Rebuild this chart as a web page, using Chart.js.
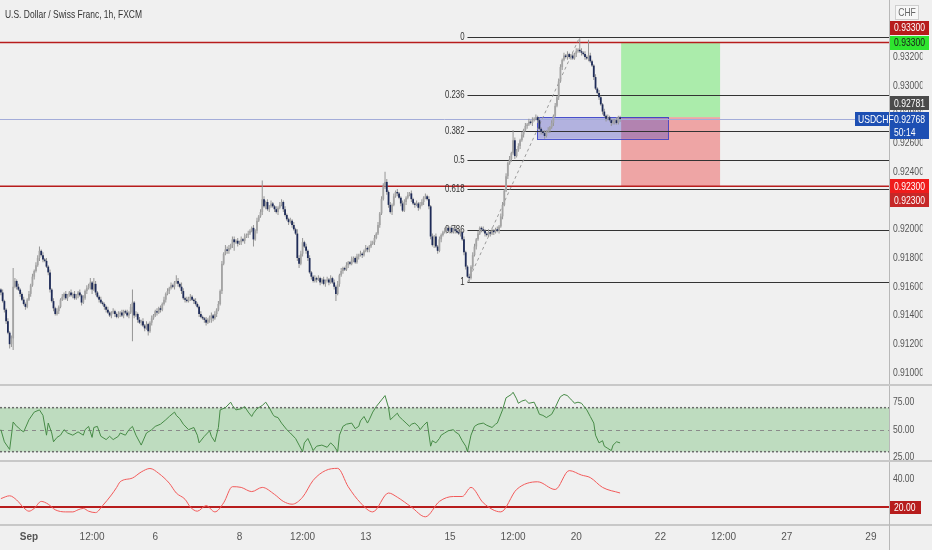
<!DOCTYPE html>
<html><head><meta charset="utf-8"><title>USDCHF 1h</title>
<script src="https://cdn.jsdelivr.net/npm/chart.js@4.4.1/dist/chart.umd.min.js"></script>
<style>
html,body{margin:0;padding:0;background:#f0f0f0;}
#wrap{position:relative;width:932px;height:550px;overflow:hidden;background:#f0f0f0;}
#wrap canvas{position:absolute;left:0;}
.sep{position:absolute;left:0;width:932px;height:2px;background:#c8c8c8;}
#title{position:absolute;left:5px;top:8px;font:11px 'Liberation Sans',Arial,sans-serif;color:#333;transform:scaleX(0.77);transform-origin:0 0;white-space:nowrap;}
#vline{position:absolute;left:889px;top:524px;width:1px;height:26px;background:#b8b8b8;}
</style></head><body>
<div id="wrap">
<canvas id="cMain" width="932" height="384" style="top:0"></canvas>
<div class="sep" style="top:384px"></div>
<canvas id="cRsi" width="932" height="74" style="top:386px"></canvas>
<div class="sep" style="top:460px"></div>
<canvas id="cInd" width="932" height="88" style="top:462px"></canvas>
<div class="sep" style="top:524px"></div>
<div id="vline"></div>
<div id="title">U.S. Dollar / Swiss Franc, 1h, FXCM</div>
</div>
<script>
// ---------- DATA ----------
// hourly closes (USD/CHF), candle 0 = Aug 31 ~08:00
const closes = [
0.9156,0.9150,0.9144,0.9136,0.9128,0.9120,0.9124,0.9160,0.9164,0.9160,
0.9158,0.9155,0.9151,0.9148,0.9146,0.9151,0.9155,0.9161,0.9167,0.9171,
0.9175,0.9180,0.9185,0.9182,0.9179,0.9178,0.9174,0.9170,0.9158,0.9150,
0.9145,0.9141,0.9143,0.9146,0.9151,0.9153,0.9155,0.9152,0.9154,0.9156,
0.9154,0.9155,0.9152,0.9154,0.9156,0.9154,0.9149,0.9152,0.9157,0.9159,
0.9160,0.9163,0.9158,0.9162,0.9156,0.9153,0.9151,0.9149,0.9148,0.9146,
0.9144,0.9142,0.9140,0.9142,0.9143,0.9141,0.9139,0.9141,0.9142,0.9140,
0.9143,0.9142,0.9140,0.9142,0.9146,0.9149,0.9140,0.9141,0.9137,0.9135,
0.9136,0.9133,0.9131,0.9134,0.9129,0.9135,0.9138,0.9140,0.9143,0.9142,
0.9145,0.9144,0.9148,0.9151,0.9155,0.9157,0.9159,0.9161,0.9160,0.9163,
0.9164,0.9162,0.9160,0.9157,0.9152,0.9151,0.9150,0.9152,0.9153,0.9151,
0.9150,0.9148,0.9146,0.9141,0.9139,0.9138,0.9137,0.9135,0.9137,0.9139,
0.9140,0.9138,0.9141,0.9144,0.9148,0.9157,0.9176,0.9183,0.9186,0.9185,
0.9187,0.9189,0.9193,0.9191,0.9192,0.9190,0.9191,0.9193,0.9192,0.9195,
0.9196,0.9197,0.9199,0.9201,0.9193,0.9199,0.9206,0.9209,0.9212,0.9221,
0.9216,0.9219,0.9214,0.9216,0.9218,0.9216,0.9214,0.9212,0.9215,0.9217,
0.9219,0.9214,0.9210,0.9207,0.9205,0.9206,0.9203,0.9200,0.9197,0.9180,
0.9176,0.9183,0.9191,0.9188,0.9185,0.9180,0.9170,0.9167,0.9164,0.9166,
0.9165,0.9166,0.9163,0.9165,0.9162,0.9164,0.9165,0.9163,0.9166,0.9163,
0.9160,0.9155,0.9162,0.9168,0.9171,0.9173,0.9172,0.9175,0.9177,0.9176,
0.9179,0.9180,0.9177,0.9181,0.9182,0.9183,0.9182,0.9185,0.9187,0.9186,
0.9188,0.9190,0.9191,0.9194,0.9197,0.9203,0.9211,0.9221,0.9230,0.9233,
0.9226,0.9217,0.9212,0.9217,0.9223,0.9226,0.9225,0.9222,0.9218,0.9213,
0.9219,0.9222,0.9224,0.9225,0.9221,0.9218,0.9217,0.9218,0.9215,0.9217,
0.9219,0.9222,0.9223,0.9221,0.9216,0.9195,0.9189,0.9195,0.9188,0.9185,
0.9193,0.9196,0.9198,0.9199,0.9201,0.9199,0.9201,0.9198,0.9200,0.9199,
0.9198,0.9197,0.9198,0.9193,0.9184,0.9174,0.9167,0.9166,0.9174,0.9182,
0.9188,0.9193,0.9197,0.9201,0.9200,0.9199,0.9197,0.9196,0.9198,0.9197,
0.9199,0.9198,0.9200,0.9199,0.9202,0.9209,0.9217,0.9227,0.9237,0.9246,
0.9249,0.9253,0.9262,0.9251,0.9255,0.9258,0.9262,0.9266,0.9269,0.9272,
0.9273,0.9275,0.9274,0.9276,0.9277,0.9278,0.9276,0.9270,0.9268,0.9267,
0.9265,0.9268,0.9269,0.9271,0.9274,0.9279,0.9286,0.9292,0.9303,0.9313,
0.9318,0.9321,0.9320,0.9322,0.9320,0.9321,0.9319,0.9322,0.9324,0.9325,
0.9324,0.9323,0.9322,0.9320,0.9319,0.9321,0.9317,0.9314,0.9306,0.9298,
0.9295,0.9292,0.9287,0.9282,0.9279,0.9277,0.9278,0.9276,0.9274,0.9275,
0.9276,0.9274,0.9278,0.92768
];
const firstOpen = 0.9158;
// upper / lower wick beyond the body, in pips
const wickHi = [
1,2,1,1,2,1,2,13,2,1, 2,1,1,2,1,1,2,1,2,1, 2,2,3,1,2,1,2,1,2,1, 2,1,2,1,1,2,1,2,1,1,
2,1,2,1,1,2,1,2,1,2, 2,3,1,4,2,1,1,2,1,1, 1,2,1,1,2,1,1,2,1,2, 1,1,2,1,2,9,1,2,1,2,
1,2,1,2,1,1,2,1,1,2, 1,2,1,2,1,2,1,2,1,1, 4,2,1,3,2,1,2,1,2,1, 1,2,1,1,2,1,1,2,1,1,
2,1,2,1,2,1,2,1,3,2, 2,1,2,2,1,2,1,2,1,2, 1,2,1,1,2,1,2,1,2,13, 2,1,2,1,2,1,1,2,1,2,
2,1,2,1,1,2,1,2,1,3, 2,2,3,1,2,1,2,1,1,2, 1,2,1,1,2,1,2,1,2,1, 2,1,2,1,2,1,1,2,1,1,
2,1,1,2,1,2,1,1,2,1, 1,2,1,2,1,2,1,2,2,7, 2,1,2,1,2,1,2,1,1,2, 2,1,2,1,2,1,1,2,1,2,
2,1,2,1,2,1,2,1,2,1, 2,1,1,2,1,2,1,2,1,2, 1,2,1,1,2,1,1,2,1,2, 2,1,2,1,1,2,1,1,2,1,
2,1,1,2,1,2,2,1,2,1, 2,1,7,2,1,2,1,2,1,2, 1,2,1,2,1,2,1,2,1,1, 2,1,2,1,2,1,2,1,2,2,
1,2,1,2,1,1,2,1,2,1, 8,2,1,2,1,11,2,1,1,2, 1,2,1,1,2,1,2,1,1,2, 1,2,1,1
];
const wickLo = [
2,1,2,2,1,3,2,8,1,2, 1,2,1,1,2,1,1,2,1,2, 1,1,2,1,2,1,1,2,2,1, 2,1,1,2,1,1,2,1,2,1,
1,2,1,1,2,1,2,1,1,2, 1,2,3,1,2,1,2,1,1,2, 2,1,1,2,1,2,1,1,2,1, 2,1,1,2,1,24,2,1,2,1,
2,1,2,1,3,1,2,1,1,2, 1,2,1,1,2,1,2,1,1,2, 1,2,1,2,1,2,1,1,2,1, 2,1,1,2,1,1,2,2,1,2,
4,2,1,2,1,1,2,1,1,2, 2,1,2,6,1,2,1,2,1,2, 1,2,1,1,5,1,2,1,1,2, 1,2,1,2,1,1,2,1,2,1,
1,2,1,1,2,1,2,1,1,2, 3,1,2,1,2,2,1,2,1,1, 2,1,2,1,1,2,1,2,1,1, 2,5,1,2,1,2,1,1,2,1,
1,2,1,1,2,1,2,1,1,2, 2,1,1,2,1,1,2,1,1,2, 2,2,1,2,1,1,2,1,2,1, 1,2,1,1,2,1,2,1,2,1,
1,2,1,1,2,2,1,2,1,2, 1,2,1,1,2,1,2,1,1,2, 1,1,2,1,2,2,1,3,1,2, 1,2,1,1,2,1,2,1,1,2,
1,2,1,1,2,1,2,1,1,2, 1,2,1,2,1,1,2,1,2,1, 2,1,1,2,1,1,2,1,2,1, 2,1,1,2,1,2,1,1,2,1,
2,1,1,2,1,2,1,1,2,1, 1,2,1,2,1,2,1,1,2,1, 1,2,1,2,1,2,1,1,2,1, 2,1,1,2
];
// RSI (candle index -> value)
const rsiIdx = [0,2,5,7,9,10,11,13,16,19, 22,24,26,27,29,30,32,34,36,38, 41,44,47,48,50,52,53,55,57,60,
62,64,67,68,71,73,75,77,80,83, 86,88,91,94,96,99,100,102,104,107, 110,112,113,116,119,120,122,124,125,128,
131,132,134,137,139,141,143,144,146,149, 151,153,155,156,158,160,163,165,168,170, 172,173,175,177,178,180,183,186,188,190,
192,193,195,197,200,202,204,205,207,209, 210,212,214,217,219,221,222,224,226,227, 229,231,233,234,236,238,239,241,243,245,
246,248,250,251,253,255,258,259,261,263, 265,266,268,270,272,275,277,280,282,283, 286,288,291,292,294,295,297,299,301,304,
306,307,309,311,312,314,316,318,319,321, 323,324,326,327,329,331,332,334,336,338, 339,341,343,344,346,348,349,351,353];
const rsiVals = [50,39,32,57,53,52,50,48,59,66, 68,63,45,56,47,39,43,45,50,47, 45,48,45,50,53,43,52,53,44,41,
44,41,44,47,45,50,53,45,36,47, 50,53,55,59,62,66,63,60,55,50, 52,45,38,44,49,44,39,52,68,70,
75,72,68,69,71,66,62,65,69,72, 75,70,64,62,61,56,50,47,42,36, 30,38,42,35,31,35,36,34,38,35,
30,45,53,55,56,51,53,58,62,56, 59,66,71,77,81,70,59,62,65,62, 59,56,53,55,56,53,50,54,57,35,
40,38,42,45,47,49,50,48,46,40, 35,30,45,53,55,56,54,52,55,56, 68,79,82,84,78,74,76,77,74,75,
68,64,63,61,62,64,70,77,80,82, 81,79,76,74,75,74,72,68,62,56, 45,38,40,35,33,31,36,39,38];
const rsiBand = [30, 70];
const rsiMid = 50;
const rsiTicks = [25, 50, 75];
// lower indicator (red line)
const indIdx = [0,5,9,13,16,19,23,27,31,37,41,44,47,50,54,58,63,66,68,75,80,85,90,96,100,105,108,112,117,122,127,132,137,143,149,156,161,166,172,178,185,192,198,205,212,221,226,234,242,250,258,263,268,275,285,294,306,316,324,331,336,343,353];
const indVals = [26,28,25,19.5,17,19,24,22,18,16.5,16.5,18,19,17,16,21,28.6,34,38,40.7,45,47.5,44,37,30,25.5,20,17,21,16.5,23,34.5,34,31,34,29,24,22,27,39,46,47.6,34.5,23,16.5,30,27,20,13,24,27.5,27.5,34,23,16.5,32.5,38,32.5,46,42.8,41,34,30];
const indLevel = 20;
const indTicks = [20, 40];
// axes
const priceTicks = [0.910,0.912,0.914,0.916,0.918,0.920,0.922,0.924,0.926,0.928,0.930,0.932];
const timeTickIdx = [16,52,88,136,172,208,256,292,328,376,412,448,496];
const timeTickLabels = ['Sep','12:00','6','8','12:00','13','15','12:00','20','22','12:00','27','29'];
// drawings
const redLevels = [0.9330, 0.9230];
const fibLevels = [0, 0.236, 0.382, 0.5, 0.618, 0.786, 1];
const fibPrices = [0.9334, 0.9163];   // 0-level, 1-level
const fibIdx = [266, 330];            // candle of the low, candle of the high
const orderBlockIdx = [305.7, 380.3];
const orderBlockPrices = [0.9263, 0.92781];
const positionIdx = [353.6, 410];
const positionPrices = [0.9230, 0.92781, 0.9330]; // stop, entry, target
const lastPrice = 0.92768;
const countdown = '50:14';
const symbol = 'USDCHF';
const currency = 'CHF';

// ---------- BUILD ----------
const PIP = 0.0001;
const opens = closes.map((c, i) => i === 0 ? firstOpen : closes[i - 1]);
const highs = closes.map((c, i) => Math.max(opens[i], c) + (wickHi[i] || 0) * PIP);
const lows = closes.map((c, i) => Math.min(opens[i], c) - (wickLo[i] || 0) * PIP);

const FONT = "'Liberation Sans',Arial,sans-serif";
const NARROW = 0.78;   // horizontal squeeze to mimic the condensed UI font
const X_MIN = -0.5, X_MAX = 506.3;
const AXIS_W = 43;

function noPad(s) { s.paddingTop = 0; s.paddingBottom = 0; s.paddingLeft = 0; s.paddingRight = 0; }

function rightAxis(min, max, tickVals, digits) {
  return {
    type: 'linear', position: 'right', min, max, bounds: 'data',
    afterFit(s) {
      s.width = AXIS_W; noPad(s);
      if (!s._narrow) {
        const orig = s.drawLabels;
        s.drawLabels = function (area) {
          const c = this.ctx; c.save();
          c.translate(this.left, 0); c.scale(NARROW, 1); c.translate(-this.left, 0);
          orig.call(this, area); c.restore();
        };
        s._narrow = true;
      }
    },
    afterBuildTicks(s) { s.ticks = tickVals.map(v => ({ value: v })); },
    grid: { display: false, drawTicks: false },
    border: { display: true, color: '#b8b8b8', width: 1 },
    ticks: { padding: 5, color: '#555', font: { family: FONT, size: 11 }, callback: v => Number(v).toFixed(digits) }
  };
}
const hiddenX = { type: 'linear', min: X_MIN, max: X_MAX, offset: false, display: false };
const baseOpts = {
  responsive: false, animation: false, events: [],
  layout: { padding: 0, autoPadding: false },
  plugins: { legend: { display: false }, tooltip: { enabled: false } }
};

function text(ctx, str, x, y, align) {
  ctx.save();
  ctx.translate(x, y); ctx.scale(NARROW, 1);
  ctx.textAlign = align; ctx.textBaseline = 'middle';
  ctx.fillText(str, 0, 0);
  ctx.restore();
}
function tag(ctx, x, yc, w, h, bg, fg, str) {
  ctx.fillStyle = bg;
  ctx.fillRect(x, Math.round(yc - h / 2), w, h);
  ctx.fillStyle = fg;
  text(ctx, str, x + 4, yc + 0.5, 'left');
}

const mainOverlay = {
  id: 'mainOverlay',
  beforeDatasetsDraw(chart) {
    const { ctx, chartArea: a, scales: { x, y } } = chart;
    ctx.save();
    ctx.beginPath(); ctx.rect(a.left, a.top, a.right - a.left, a.bottom - a.top); ctx.clip();
    // long position tool
    const p0 = x.getPixelForValue(positionIdx[0]), p1 = x.getPixelForValue(positionIdx[1]);
    const yStop = y.getPixelForValue(positionPrices[0]);
    const yEntry = y.getPixelForValue(positionPrices[1]);
    const yTarget = y.getPixelForValue(positionPrices[2]);
    ctx.fillStyle = 'rgba(76,232,76,0.42)';
    ctx.fillRect(p0, yTarget, p1 - p0, yEntry - yTarget);
    ctx.fillStyle = 'rgba(236,62,62,0.42)';
    ctx.fillRect(p0, yEntry, p1 - p0, yStop - yEntry);
    // order block
    const b0 = x.getPixelForValue(orderBlockIdx[0]), b1 = x.getPixelForValue(orderBlockIdx[1]);
    const bt = y.getPixelForValue(orderBlockPrices[1]), bb = y.getPixelForValue(orderBlockPrices[0]);
    ctx.fillStyle = 'rgba(70,70,195,0.36)';
    ctx.fillRect(b0, bt, b1 - b0, bb - bt);
    ctx.strokeStyle = 'rgba(50,60,200,0.85)'; ctx.lineWidth = 1;
    ctx.strokeRect(Math.round(b0) + 0.5, Math.round(bt) + 0.5, Math.round(b1 - b0), Math.round(bb - bt));
    // red horizontal levels
    ctx.strokeStyle = '#b71c1c'; ctx.lineWidth = 1.5;
    redLevels.forEach(p => {
      const yy = y.getPixelForValue(p);
      ctx.beginPath(); ctx.moveTo(a.left, yy); ctx.lineTo(a.right, yy); ctx.stroke();
    });
    // fibonacci retracement
    const f0 = x.getPixelForValue(fibIdx[0]);
    ctx.strokeStyle = '#333'; ctx.lineWidth = 1;
    ctx.font = '10px ' + FONT; ctx.fillStyle = '#333';
    fibLevels.forEach(l => {
      const p = fibPrices[0] - l * (fibPrices[0] - fibPrices[1]);
      const yy = Math.round(y.getPixelForValue(p)) + 0.5;
      ctx.beginPath(); ctx.moveTo(f0, yy); ctx.lineTo(a.right, yy); ctx.stroke();
      text(ctx, String(l), f0 - 3, yy, 'right');
    });
    ctx.strokeStyle = '#9a9a9a'; ctx.setLineDash([3, 3]);
    ctx.beginPath();
    ctx.moveTo(f0, y.getPixelForValue(fibPrices[1]));
    ctx.lineTo(x.getPixelForValue(fibIdx[1]), y.getPixelForValue(fibPrices[0]));
    ctx.stroke();
    ctx.setLineDash([]);
    // last price line
    const yl = Math.round(y.getPixelForValue(lastPrice)) + 0.5;
    ctx.strokeStyle = '#a3acd9'; ctx.lineWidth = 1;
    ctx.beginPath(); ctx.moveTo(a.left, yl); ctx.lineTo(a.right, yl); ctx.stroke();
    ctx.restore();
  },
  afterDraw(chart) {
    const { ctx, scales: { y } } = chart;
    const L = y.left + 1, W = 39, H = 14;
    ctx.save();
    ctx.font = '11px ' + FONT;
    // currency box
    ctx.fillStyle = '#f7f7f7'; ctx.fillRect(L + 5, 5, 24, 15);
    ctx.strokeStyle = '#cfcfcf'; ctx.strokeRect(L + 5.5, 5.5, 23, 14);
    ctx.fillStyle = '#666';
    text(ctx, currency, L + 17, 13, 'center');
    const yT = y.getPixelForValue(positionPrices[2]);
    const yS = y.getPixelForValue(positionPrices[0]);
    const yE = y.getPixelForValue(positionPrices[1]);
    const yL = y.getPixelForValue(lastPrice);
    tag(ctx, L, yT - 15, W, H, '#b71c1c', '#fff', redLevels[0].toFixed(5));
    tag(ctx, L, yT, W, H, '#2ee52e', '#1a1a1a', positionPrices[2].toFixed(5));
    tag(ctx, L, yE - 14, W, H, '#4b4b4b', '#fff', orderBlockPrices[1].toFixed(5));
    // last price
    ctx.fillStyle = '#1d4fb3';
    ctx.fillRect(L, Math.round(yL - 7), W, 27);
    ctx.fillRect(L - 35, Math.round(yL - 7), 34, 14);
    ctx.fillStyle = '#fff';
    text(ctx, lastPrice.toFixed(5), L + 4, yL + 0.5, 'left');
    text(ctx, countdown, L + 4, yL + 13.5, 'left');
    text(ctx, symbol, L - 32, yL + 0.5, 'left');
    tag(ctx, L, yS, W, H, '#f01c1c', '#fff', positionPrices[0].toFixed(5));
    tag(ctx, L, yS + 14, W, H, '#c62828', '#fff', redLevels[1].toFixed(5));
    ctx.restore();
  }
};

new Chart(document.getElementById('cMain'), {
  type: 'bar',
  data: {
    datasets: [
      { label: 'wick', data: closes.map((c, i) => ({ x: i, y: [lows[i], highs[i]] })),
        backgroundColor: '#959595', barThickness: 1, grouped: false, order: 2, inflateAmount: 0 },
      { label: 'body', data: closes.map((c, i) => ({ x: i, y: [opens[i], c] })),
        backgroundColor: ctx => (closes[ctx.dataIndex] >= opens[ctx.dataIndex] ? '#a4a4a4' : '#1e2b58'),
        barThickness: 1.8, minBarLength: 1, grouped: false, order: 1, inflateAmount: 0 }
    ]
  },
  options: Object.assign({}, baseOpts, {
    scales: { x: hiddenX, y: rightAxis(0.909227, 0.935968, priceTicks, 5) }
  }),
  plugins: [mainOverlay]
});

const rsiOverlay = {
  id: 'rsiOverlay',
  beforeDatasetsDraw(chart) {
    const { ctx, chartArea: a, scales: { y } } = chart;
    const yHi = y.getPixelForValue(rsiBand[1]), yLo = y.getPixelForValue(rsiBand[0]), yMid = y.getPixelForValue(rsiMid);
    ctx.save();
    ctx.fillStyle = 'rgba(76,175,80,0.30)';
    ctx.fillRect(a.left, yHi, a.right - a.left, yLo - yHi);
    ctx.strokeStyle = '#6b6b6b'; ctx.lineWidth = 1.5; ctx.setLineDash([2, 2]);
    [yHi, yLo].forEach(yy => { ctx.beginPath(); ctx.moveTo(a.left, yy); ctx.lineTo(a.right, yy); ctx.stroke(); });
    ctx.lineWidth = 1; ctx.strokeStyle = '#8a8a8a'; ctx.setLineDash([4, 4]);
    ctx.beginPath(); ctx.moveTo(a.left, Math.round(yMid) + 0.5); ctx.lineTo(a.right, Math.round(yMid) + 0.5); ctx.stroke();
    ctx.restore();
  }
};
new Chart(document.getElementById('cRsi'), {
  type: 'line',
  data: { datasets: [{ data: rsiIdx.map((k, i) => ({ x: k, y: rsiVals[i] })),
    borderColor: '#468a46', borderWidth: 1, pointRadius: 0, tension: 0, fill: false }] },
  options: Object.assign({}, baseOpts, {
    scales: { x: hiddenX, y: rightAxis(22.45, 89.7, rsiTicks, 2) }
  }),
  plugins: [rsiOverlay]
});

const indOverlay = {
  id: 'indOverlay',
  beforeDatasetsDraw(chart) {
    const { ctx, chartArea: a, scales: { y } } = chart;
    const yy = y.getPixelForValue(indLevel);
    ctx.save();
    ctx.strokeStyle = '#b71c1c'; ctx.lineWidth = 2;
    ctx.beginPath(); ctx.moveTo(a.left, yy); ctx.lineTo(a.right, yy); ctx.stroke();
    ctx.restore();
  },
  afterDraw(chart) {
    const { ctx, scales: { y } } = chart;
    ctx.save();
    ctx.font = '11px ' + FONT;
    tag(ctx, y.left + 1, y.getPixelForValue(indLevel), 31, 13, '#b71c1c', '#fff', indLevel.toFixed(2));
    ctx.restore();
  }
};
new Chart(document.getElementById('cInd'), {
  type: 'line',
  data: { datasets: [{ data: indIdx.map((k, i) => ({ x: k, y: indVals[i] })),
    borderColor: '#f25a5a', borderWidth: 1, pointRadius: 0, cubicInterpolationMode: 'monotone', fill: false }] },
  options: Object.assign({}, baseOpts, {
    scales: {
      x: {
        type: 'linear', position: 'bottom', min: X_MIN, max: X_MAX, offset: false,
        afterFit(s) { s.height = 26; noPad(s); },
        afterBuildTicks(s) { s.ticks = timeTickIdx.map(v => ({ value: v })); },
        grid: { display: false, drawTicks: false }, border: { display: false },
        ticks: {
          autoSkip: false, maxRotation: 0, minRotation: 0, padding: 7, color: '#555',
          font: c => ({ family: FONT, size: 10, weight: c.index === 0 ? 'bold' : 'normal' }),
          callback: v => timeTickLabels[timeTickIdx.indexOf(v)]
        }
      },
      y: rightAxis(7.86, 52.14, indTicks, 2)
    }
  }),
  plugins: [indOverlay]
});
</script>
</body></html>
